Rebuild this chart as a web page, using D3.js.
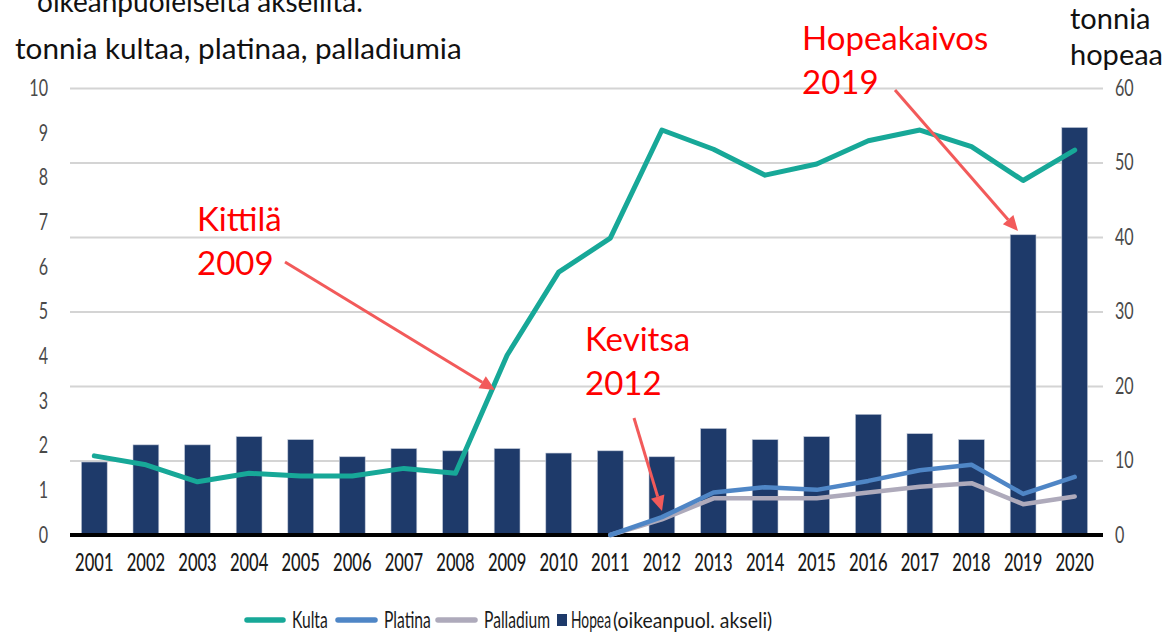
<!DOCTYPE html>
<html>
<head>
<meta charset="utf-8">
<script src="https://cdn.jsdelivr.net/npm/d3@7"></script>
<style>
  body { margin: 0; background: #fff; }
  svg { display: block; }
  .narrow { font-family: "Liberation Sans Narrow", "Lato", sans-serif; }
  .label { font-family: "Lato", "Open Sans", sans-serif; }
</style>
</head>
<body>
<svg id="chart" width="1173" height="633"></svg>
<script>
const W = 1173, H = 633;

// vuodet
const years = ['2001','2002','2003','2004','2005','2006','2007','2008','2009','2010',
               '2011','2012','2013','2014','2015','2016','2017','2018','2019','2020'];
// tonnia, vasen akseli
const kulta     = [1.77, 1.57, 1.19, 1.38, 1.32, 1.32, 1.49, 1.38, 4.02, 5.88,
                   6.64, 9.06, 8.63, 8.05, 8.30, 8.82, 9.06, 8.69, 7.93, 8.61];
const platina   = [null, null, null, null, null, null, null, null, null, null,
                   0, 0.40, 0.95, 1.07, 1.01, 1.21, 1.45, 1.57, 0.92, 1.30];
const palladium = [null, null, null, null, null, null, null, null, null, null,
                   0, 0.35, 0.82, 0.82, 0.82, 0.95, 1.08, 1.16, 0.69, 0.86];
// tonnia, oikea akseli
const hopea     = [9.8, 12.1, 12.1, 13.2, 12.8, 10.5, 11.6, 11.3, 11.6, 11.0,
                   11.3, 10.5, 14.3, 12.8, 13.2, 16.2, 13.6, 12.8, 40.3, 54.7];

const leftTicks  = [0,1,2,3,4,5,6,7,8,9,10];
const rightTicks = [0,10,20,30,40,50,60];

const C_KULTA = '#17a898', C_PLAT = '#4f86c6', C_PALL = '#aeaabb', C_HOPEA = '#1e3a6a';
const C_ARROW = '#f25a5a';

const pL = 70, pR = 1103, pT = 88, pB = 535;

const svg = d3.select('#chart');
const x  = d3.scaleBand().domain(years).range([68.5, 1100.5]).paddingInner(0.5).paddingOuter(0.25);
const xc = d => x(d) + x.bandwidth()/2;
const yL = d3.scaleLinear().domain([0, 10]).range([pB, pT]);
const yR = d3.scaleLinear().domain([0, 60]).range([pB, pT]);

// kapea kirjasin: puristetaan tekstiä vaakasuunnassa
function condense(sel, k) {
  sel.each(function() {
    const w = this.getComputedTextLength();
    d3.select(this).attr('textLength', w * k).attr('lengthAdjust', 'spacingAndGlyphs');
  });
}
// selitteen tekstit: skaalaus ryhmällä
function narrowText(parent, tx, ty, k, str, cls, size) {
  return parent.append('g').attr('transform', `translate(${tx},${ty}) scale(${k},1)`)
    .append('text').attr('class', cls).attr('font-size', size).text(str);
}

// ruudukko oikean akselin mukaan
const gR = svg.append('g').attr('transform', `translate(${pR},0)`)
  .call(d3.axisRight(yR).tickValues(rightTicks).tickSize(-(pR-pL)).tickPadding(12));
gR.select('.domain').remove();
gR.selectAll('.tick line').attr('stroke', '#d4d4d4').attr('stroke-width', 2)
  .filter(d => d === 0).remove();
gR.selectAll('.tick text').attr('class', 'narrow').attr('font-size', 23).attr('fill', '#4a4a4a')
  .call(condense, 0.7);

const gL = svg.append('g').attr('transform', `translate(${pL-22},0)`)
  .call(d3.axisLeft(yL).tickValues(leftTicks).tickSize(0).tickPadding(0));
gL.select('.domain').remove();
gL.selectAll('.tick text').attr('class', 'narrow').attr('font-size', 23).attr('fill', '#4a4a4a')
  .call(condense, 0.7);

// hopea-pylväät
svg.append('g').selectAll('rect').data(years).join('rect')
  .attr('x', d => x(d)).attr('width', x.bandwidth())
  .attr('y', (d, i) => yR(hopea[i])).attr('height', (d, i) => yR(0) - yR(hopea[i]))
  .attr('fill', C_HOPEA).attr('stroke', '#c0c8d8').attr('stroke-width', 0.6);

// perusviiva
svg.append('line').attr('x1', pL).attr('x2', pR).attr('y1', yL(0)).attr('y2', yL(0))
  .attr('stroke', '#000').attr('stroke-width', 4);

const line = d3.line().defined(d => d[1] !== null).x(d => xc(d[0])).y(d => yL(d[1]));
function drawLine(vals, color, w) {
  svg.append('path').datum(years.map((y, i) => [y, vals[i]]))
    .attr('d', line).attr('fill', 'none').attr('stroke', color)
    .attr('stroke-width', w).attr('stroke-linejoin', 'round').attr('stroke-linecap', 'round');
}
drawLine(palladium, C_PALL, 4.5);
drawLine(platina, C_PLAT, 4.5);
drawLine(kulta, C_KULTA, 5);

// x-akseli
const gX = svg.append('g').attr('transform', `translate(0,${pB+19})`)
  .call(d3.axisBottom(x).tickSize(0).tickPadding(0));
gX.select('.domain').remove();
gX.selectAll('.tick text').attr('class', 'narrow').attr('font-size', 24).attr('font-weight', 500)
  .attr('fill', '#1a1a1a').call(condense, 0.69);

// otsikot
svg.append('text').attr('class', 'label').attr('x', 37).attr('y', 12)
  .attr('font-size', 28).attr('fill', '#111').text('oikeanpuoleiselta akselilta.');
svg.append('text').attr('class', 'label').attr('x', 15).attr('y', 59)
  .attr('font-size', 28).attr('fill', '#111').text('tonnia kultaa, platinaa, palladiumia')
  .call(condense, 1.06);
svg.append('text').attr('class', 'label').attr('x', 1070).attr('y', 29)
  .attr('font-size', 29).attr('fill', '#111').text('tonnia');
svg.append('text').attr('class', 'label').attr('x', 1070).attr('y', 65)
  .attr('font-size', 29).attr('fill', '#111').text('hopeaa');

// selite
const legend = svg.append('g').attr('fill', '#1a1a1a');
const legItems = [
  { name: 'Kulta', color: C_KULTA, x1: 247, x2: 283 },
  { name: 'Platina', color: C_PLAT, x1: 338, x2: 375 },
  { name: 'Palladium', color: C_PALL, x1: 438, x2: 475 }
];
const ly = 620;
legItems.forEach(it => {
  legend.append('line').attr('x1', it.x1).attr('x2', it.x2).attr('y1', ly).attr('y2', ly)
    .attr('stroke', it.color).attr('stroke-width', 5.5).attr('stroke-linecap', 'round');
  narrowText(legend, it.x2 + 9, ly + 8, 0.68, it.name, 'narrow', 23);
});
legend.append('rect').attr('x', 557).attr('y', ly - 6).attr('width', 10).attr('height', 12).attr('fill', C_HOPEA);
narrowText(legend, 571, ly + 8, 0.6, 'Hopea', 'narrow', 23);
narrowText(legend, 613, ly + 8, 0.88, '(oikeanpuol. akseli)', 'label', 22);

// merkinnät
const notes = [
  { lines: ['Kittilä', '2009'], x: 197, y: 231, from: [285, 262], to: [495, 390] },
  { lines: ['Kevitsa', '2012'], x: 585, y: 351, from: [634, 418], to: [662, 511] },
  { lines: ['Hopeakaivos', '2019'], x: 802, y: 50, from: [895, 90], to: [1018, 231] }
];
notes.forEach(n => {
  const t = svg.append('text').attr('class', 'label').attr('font-size', 33).attr('fill', '#ff0000');
  n.lines.forEach((s, i) => t.append('tspan').attr('x', n.x).attr('y', n.y + i * 44).text(s));
  const dx = n.to[0] - n.from[0], dy = n.to[1] - n.from[1];
  const len = Math.hypot(dx, dy), ux = dx / len, uy = dy / len;
  const hl = 15, hw = 7;
  const bx = n.to[0] - ux * hl, by = n.to[1] - uy * hl;
  svg.append('line').attr('x1', n.from[0]).attr('y1', n.from[1]).attr('x2', bx).attr('y2', by)
    .attr('stroke', C_ARROW).attr('stroke-width', 3);
  svg.append('path')
    .attr('d', `M${n.to[0]},${n.to[1]}L${bx - uy*hw},${by + ux*hw}L${bx + uy*hw},${by - ux*hw}Z`)
    .attr('fill', C_ARROW);
});
</script>
</body>
</html>
